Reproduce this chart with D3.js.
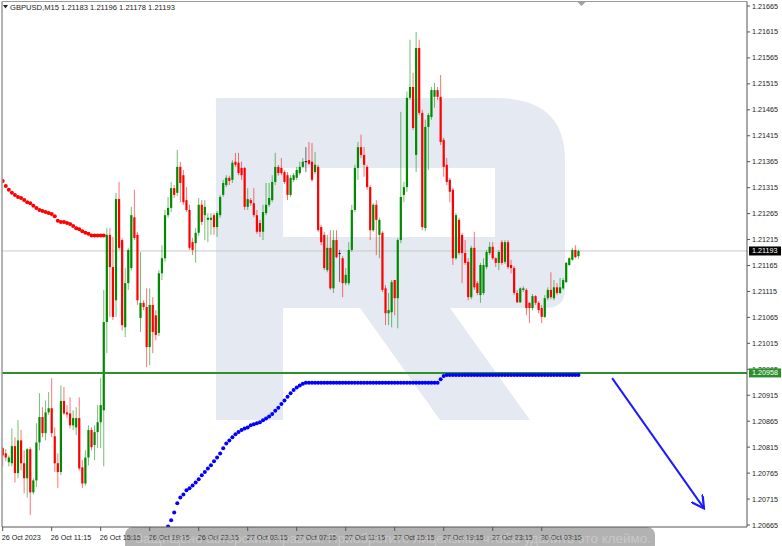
<!DOCTYPE html>
<html><head><meta charset="utf-8">
<script src="https://cdn.jsdelivr.net/npm/d3@7"></script>
<style>html,body{margin:0;padding:0;background:#fff;} svg{display:block;}</style>
</head><body>
<svg id="c" width="782" height="546"></svg>
<script>
// ---------------- DATA ----------------
const symbolTitle = "GBPUSD,M15";
const lastOHLC = [1.21183, 1.21196, 1.21178, 1.21193];

const open = [1.20813,1.20803,1.20786,1.20784,1.20817,1.20765,1.20828,1.20784,1.20755,1.20811,
1.20728,1.20751,1.20824,1.20873,1.20842,1.20882,1.20890,1.20836,1.20784,1.20767,
1.20904,1.20882,1.20880,1.20857,1.20853,1.20871,1.20776,1.20745,1.20795,1.20848,
1.20819,1.20844,1.20863,1.20886,1.21056,1.21224,1.21162,1.21098,1.21293,1.21214,
1.21046,1.21131,1.21160,1.21258,1.21224,1.21064,1.21093,1.21085,1.21008,1.21089,
1.21069,1.21035,1.21150,1.21179,1.21262,1.21276,1.21314,1.21305,1.21355,1.21339,
1.21291,1.21272,1.21210,1.21208,1.21228,1.21282,1.21262,1.21253,1.21253,1.21262,
1.21239,1.21262,1.21301,1.21320,1.21334,1.21330,1.21365,1.21363,1.21353,1.21353,
1.21278,1.21291,1.21285,1.21262,1.21247,1.21230,1.21266,1.21282,1.21291,1.21326,
1.21355,1.21353,1.21345,1.21339,1.21301,1.21330,1.21334,1.21343,1.21355,1.21366,
1.21368,1.21365,1.21345,1.21355,1.21239,1.21224,1.21156,1.21199,1.21121,1.21214,
1.21189,1.21179,1.21131,1.21131,1.21195,1.21272,1.21353,1.21393,1.21378,1.21355,
1.21316,1.21233,1.21282,1.21224,1.21228,1.21121,1.21073,1.21075,1.21137,1.21102,
1.21214,1.21301,1.21316,1.21488,1.21509,1.21378,1.21584,1.21459,1.21237,1.21432,
1.21451,1.21490,1.21503,1.21490,1.21407,1.21359,1.21330,1.21311,1.21179,1.21253,
1.21224,1.21189,1.21172,1.21104,1.21199,1.21131,1.21108,1.21112,1.21162,1.21189,
1.21201,1.21179,1.21170,1.21210,1.21172,1.21210,1.21166,1.21160,1.21112,1.21094,
1.21118,1.21118,1.21093,1.21083,1.21106,1.21093,1.21083,1.21066,1.21102,1.21118,
1.21102,1.21123,1.21112,1.21121,1.21133,1.21166,1.21176,1.21195,1.21183];

const high = [1.20815,1.20811,1.20799,1.20851,1.20834,1.20867,1.20848,1.20809,1.20813,1.20815,
1.20755,1.20861,1.20919,1.20892,1.20905,1.20921,1.20948,1.20853,1.20803,1.20934,
1.20931,1.20896,1.20911,1.20886,1.20892,1.20911,1.20790,1.20809,1.20857,1.20853,
1.20857,1.20896,1.20948,1.21118,1.21237,1.21237,1.21220,1.21305,1.21326,1.21218,
1.21160,1.21199,1.21278,1.21311,1.21230,1.21191,1.21098,1.21121,1.21121,1.21104,
1.21079,1.21156,1.21204,1.21272,1.21297,1.21326,1.21320,1.21388,1.21365,1.21349,
1.21316,1.21282,1.21218,1.21237,1.21295,1.21291,1.21291,1.21266,1.21266,1.21266,
1.21270,1.21301,1.21330,1.21339,1.21338,1.21368,1.21382,1.21382,1.21365,1.21355,
1.21314,1.21295,1.21314,1.21272,1.21253,1.21282,1.21324,1.21324,1.21339,1.21382,
1.21359,1.21372,1.21349,1.21345,1.21339,1.21343,1.21355,1.21365,1.21372,1.21393,
1.21403,1.21401,1.21384,1.21359,1.21243,1.21230,1.21224,1.21233,1.21233,1.21233,
1.21195,1.21183,1.21160,1.21210,1.21282,1.21359,1.21403,1.21417,1.21393,1.21359,
1.21320,1.21285,1.21291,1.21257,1.21231,1.21127,1.21112,1.21137,1.21137,1.21218,
1.21461,1.21326,1.21500,1.21600,1.21536,1.21615,1.21600,1.21465,1.21446,1.21459,
1.21509,1.21517,1.21509,1.21532,1.21411,1.21372,1.21334,1.21314,1.21266,1.21257,
1.21228,1.21214,1.21179,1.21203,1.21230,1.21135,1.21170,1.21179,1.21195,1.21210,
1.21210,1.21181,1.21195,1.21214,1.21214,1.21214,1.21176,1.21164,1.21118,1.21123,
1.21125,1.21121,1.21094,1.21110,1.21108,1.21096,1.21089,1.21108,1.21123,1.21152,
1.21137,1.21131,1.21141,1.21141,1.21172,1.21181,1.21199,1.21204,1.21196];

const low = [1.20778,1.20788,1.20778,1.20778,1.20747,1.20755,1.20770,1.20726,1.20718,1.20684,
1.20724,1.20738,1.20809,1.20834,1.20828,1.20877,1.20834,1.20767,1.20736,1.20761,
1.20877,1.20871,1.20851,1.20848,1.20838,1.20770,1.20736,1.20741,1.20780,1.20809,
1.20790,1.20813,1.20813,1.20778,1.20996,1.21066,1.21060,1.21066,1.21195,1.21040,
1.21027,1.21118,1.21156,1.21214,1.21089,1.21037,1.21079,1.20969,1.20973,1.20996,
1.21021,1.21029,1.21137,1.21172,1.21257,1.21268,1.21295,1.21299,1.21287,1.21282,
1.21268,1.21195,1.21185,1.21170,1.21222,1.21243,1.21214,1.21210,1.21224,1.21224,
1.21220,1.21257,1.21297,1.21316,1.21320,1.21324,1.21355,1.21339,1.21330,1.21272,
1.21272,1.21280,1.21258,1.21226,1.21220,1.21214,1.21262,1.21278,1.21287,1.21320,
1.21338,1.21339,1.21322,1.21291,1.21297,1.21326,1.21330,1.21339,1.21353,1.21345,
1.21359,1.21326,1.21341,1.21230,1.21204,1.21156,1.21152,1.21118,1.21112,1.21179,
1.21133,1.21104,1.21127,1.21127,1.21191,1.21268,1.21330,1.21372,1.21336,1.21311,
1.21214,1.21230,1.21185,1.21179,1.21114,1.21050,1.21050,1.21046,1.21069,1.21044,
1.21208,1.21287,1.21307,1.21484,1.21426,1.21345,1.21455,1.21233,1.21231,1.21349,
1.21446,1.21469,1.21484,1.21397,1.21336,1.21320,1.21287,1.21166,1.21176,1.21185,
1.21131,1.21166,1.21098,1.21100,1.21118,1.21108,1.21093,1.21108,1.21158,1.21185,
1.21176,1.21162,1.21156,1.21166,1.21168,1.21158,1.21150,1.21108,1.21093,1.21093,
1.21114,1.21069,1.21054,1.21079,1.21089,1.21073,1.21054,1.21064,1.21098,1.21100,
1.21098,1.21108,1.21110,1.21118,1.21131,1.21164,1.21174,1.21179,1.21178];

const close = [1.20799,1.20795,1.20795,1.20817,1.20765,1.20828,1.20784,1.20755,1.20811,1.20728,
1.20751,1.20824,1.20873,1.20842,1.20882,1.20890,1.20842,1.20784,1.20767,1.20904,
1.20880,1.20878,1.20857,1.20871,1.20871,1.20774,1.20745,1.20795,1.20848,1.20815,
1.20844,1.20863,1.20896,1.21056,1.21224,1.21162,1.21066,1.21293,1.21199,1.21050,
1.21131,1.21195,1.21262,1.21218,1.21098,1.21093,1.21085,1.21008,1.21089,1.21037,
1.21031,1.21150,1.21179,1.21262,1.21276,1.21314,1.21301,1.21355,1.21324,1.21287,
1.21272,1.21199,1.21195,1.21228,1.21282,1.21249,1.21278,1.21257,1.21257,1.21239,
1.21266,1.21297,1.21324,1.21334,1.21328,1.21363,1.21359,1.21343,1.21339,1.21278,
1.21293,1.21285,1.21262,1.21230,1.21230,1.21268,1.21282,1.21295,1.21326,1.21355,
1.21343,1.21343,1.21326,1.21301,1.21334,1.21339,1.21349,1.21355,1.21365,1.21366,
1.21361,1.21330,1.21359,1.21233,1.21210,1.21160,1.21199,1.21121,1.21214,1.21181,
1.21189,1.21131,1.21147,1.21195,1.21272,1.21353,1.21393,1.21378,1.21359,1.21316,
1.21233,1.21282,1.21253,1.21253,1.21118,1.21073,1.21079,1.21133,1.21102,1.21214,
1.21297,1.21316,1.21488,1.21509,1.21430,1.21584,1.21459,1.21239,1.21432,1.21455,
1.21503,1.21503,1.21490,1.21403,1.21355,1.21326,1.21307,1.21179,1.21262,1.21189,
1.21189,1.21170,1.21104,1.21199,1.21123,1.21112,1.21166,1.21166,1.21191,1.21201,
1.21179,1.21170,1.21191,1.21170,1.21210,1.21162,1.21160,1.21112,1.21094,1.21121,
1.21121,1.21083,1.21083,1.21106,1.21093,1.21079,1.21066,1.21102,1.21118,1.21104,
1.21123,1.21112,1.21123,1.21137,1.21170,1.21179,1.21195,1.21181,1.21193];

// trailing indicator (dots): red while above price, blue while below
const dotsRedStart = 0;
const dotsRed = [1.21328,1.21318,1.21311,1.21305,1.21301,1.21297,1.21295,1.21291,1.21287,1.21285,
1.21280,1.21276,1.21272,1.21270,1.21268,1.21266,1.21264,1.21260,1.21251,1.21249,
1.21249,1.21247,1.21245,1.21241,1.21237,1.21235,1.21231,1.21228,1.21226,1.21223,
1.21223,1.21223,1.21223,1.21223];
const dotsBlueStart = 54;
const dotsBlue = [1.20662,1.20674,1.20689,1.20707,1.20718,1.20724,1.20732,1.20736,1.20741,1.20747,
1.20753,1.20761,1.20767,1.20774,1.20780,1.20788,1.20795,1.20803,1.20813,1.20822,
1.20828,1.20834,1.20840,1.20844,1.20848,1.20851,1.20853,1.20857,1.20859,1.20861,
1.20863,1.20867,1.20870,1.20874,1.20879,1.20885,1.20891,1.20898,1.20905,1.20912,
1.20919,1.20925,1.20930,1.20934,1.20937,
1.20939,1.20939,1.20939,1.20939,1.20939,1.20939,1.20939,1.20939,1.20939,1.20939,
1.20939,1.20939,1.20939,1.20939,1.20939,1.20939,1.20939,1.20939,1.20939,1.20939,
1.20939,1.20939,1.20939,1.20939,1.20939,1.20939,1.20939,1.20939,1.20939,1.20939,
1.20939,1.20939,1.20939,1.20939,1.20939,1.20939,1.20939,1.20939,1.20939,1.20939,
1.20939,1.20939,1.20939,1.20939,
1.20946,1.20952,
1.20954,1.20954,1.20954,1.20954,1.20954,1.20954,1.20954,1.20954,1.20954,1.20954,
1.20954,1.20954,1.20954,1.20954,1.20954,1.20954,1.20954,1.20954,1.20954,1.20954,
1.20954,1.20954,1.20954,1.20954,1.20954,1.20954,1.20954,1.20954,1.20954,1.20954,
1.20954,1.20954,1.20954,1.20954,1.20954,1.20954,1.20954,1.20954,1.20954,1.20954,
1.20954,1.20954,1.20954,1.20954];

const supportLevel = 1.20958;
const bidPrice = 1.21193;
const priceTicks = [1.21665,1.21615,1.21565,1.21515,1.21465,1.21415,1.21365,1.21315,1.21265,1.21215,
1.21165,1.21115,1.21065,1.21015,1.20965,1.20915,1.20865,1.20815,1.20765,1.20715,1.20665];
const timeTickBars = [0,16,32,48,64,80,96,112,128,144,160,176];
const timeTickLabels = ["26 Oct 2023","26 Oct 11:15","26 Oct 15:15","26 Oct 19:15","26 Oct 23:15",
"27 Oct 03:15","27 Oct 07:15","27 Oct 11:15","27 Oct 15:15","27 Oct 19:15","27 Oct 23:15","30 Oct 03:15"];
// forecast arrow: [bar index, price]
const arrowFrom = [199, 1.20948];
const arrowTo = [229, 1.20697];
const overlayText = "Защищено авторским правом. Приобретите лицензию, чтобы удалить это клеймо.";

// ---------------- DRAW ----------------
const svg = d3.select('#c');
const FONT = '"Liberation Sans", Arial, sans-serif';
const L = 2, R = 747, T = 1.5, B = 527;
const x = d3.scaleLinear().domain([0, 16]).range([2.7, 51.7]);
const y = d3.scaleLinear().domain([1.20665, 1.21665]).range([525, 6]);

const defs = svg.append('defs');
defs.append('clipPath').attr('id','plot').append('rect')
  .attr('x', L).attr('y', T).attr('width', R - L).attr('height', B - T);
defs.append('marker').attr('id','ah').attr('viewBox','0 0 10 10').attr('refX',9).attr('refY',5)
  .attr('markerWidth',7).attr('markerHeight',7).attr('orient','auto')
  .append('path').attr('d','M0,0 L9,5 L0,10').attr('fill','none').attr('stroke','#1a1aff').attr('stroke-width',1.6);

svg.append('rect').attr('width',782).attr('height',546).attr('fill','#fff');

// watermark logo (decorative)
const wm = svg.append('g').attr('clip-path','url(#plot)').attr('fill','#e4e9f2');
wm.append('path').attr('d',
  'M216,98 H495 Q565,98 565,160 V290 Q565,308 545,308 H450 L530,420 H440 L360,308 H283 V420 H216 Z ' +
  'M283,168 V237 H495 V168 Z').attr('fill-rule','evenodd');

const plot = svg.append('g').attr('clip-path','url(#plot)');

// bid line
plot.append('line').attr('x1',L).attr('x2',R).attr('y1',y(bidPrice)).attr('y2',y(bidPrice))
  .attr('stroke','#c8c8c8').attr('stroke-width',1);

const bars = d3.range(close.length);
const col = i => close[i] > open[i] ? '#008a00' : (close[i] < open[i] ? '#ff0000' : '#000');

plot.append('g').selectAll('line').data(bars).join('line')
  .attr('x1', i => x(i)).attr('x2', i => x(i))
  .attr('y1', i => y(high[i])).attr('y2', i => y(low[i]))
  .attr('stroke', col).attr('stroke-opacity', 0.55).attr('stroke-width', 1);
plot.append('g').selectAll('rect').data(bars).join('rect')
  .attr('x', i => x(i) - 1.1).attr('width', 2.2)
  .attr('y', i => Math.min(y(open[i]), y(close[i])))
  .attr('height', i => Math.max(1, Math.abs(y(open[i]) - y(close[i]))))
  .attr('fill', col);

// support level
plot.append('line').attr('x1',L).attr('x2',R).attr('y1',y(supportLevel)).attr('y2',y(supportLevel))
  .attr('stroke','#2f8f2f').attr('stroke-width',2);

// dots
plot.append('g').selectAll('circle').data(dotsRed).join('circle')
  .attr('cx', (d,k) => x(dotsRedStart + k)).attr('cy', d => y(d)).attr('r', 2).attr('fill', '#ff0000');
plot.append('g').selectAll('circle').data(dotsBlue).join('circle')
  .attr('cx', (d,k) => x(dotsBlueStart + k)).attr('cy', d => y(d)).attr('r', 2).attr('fill', '#0000ff');

// arrow
svg.append('line').attr('x1', x(arrowFrom[0])).attr('y1', y(arrowFrom[1]))
  .attr('x2', x(arrowTo[0])).attr('y2', y(arrowTo[1]))
  .attr('stroke','#1a1aff').attr('stroke-width',2).attr('marker-end','url(#ah)');

// frame
svg.append('line').attr('x1',L).attr('x2',L).attr('y1',T).attr('y2',B).attr('stroke','#9a9a9a').attr('stroke-width',1.5);
svg.append('line').attr('x1',L).attr('x2',R).attr('y1',T).attr('y2',T).attr('stroke','#9a9a9a').attr('stroke-width',1);
svg.append('line').attr('x1',R).attr('x2',R).attr('y1',T).attr('y2',B).attr('stroke','#555').attr('stroke-width',1);
svg.append('line').attr('x1',L).attr('x2',R).attr('y1',B).attr('y2',B).attr('stroke','#555').attr('stroke-width',1);

// chart shift marker
svg.append('path').attr('d','M577,1.5 L586,1.5 L581.5,6 Z').attr('fill','#a0a0a0');

// price axis
const pa = svg.append('g');
priceTicks.forEach(p => {
  pa.append('line').attr('x1',R).attr('x2',R+3).attr('y1',y(p)).attr('y2',y(p)).attr('stroke','#555');
  pa.append('text').attr('x',R+5).attr('y',y(p)+2.5).text(p.toFixed(5))
    .attr('font-family',FONT).attr('font-size',7.2).attr('fill','#222');
});
function tag(p, bg){
  pa.append('rect').attr('x',R+2).attr('y',y(p)-4.5).attr('width',32).attr('height',9).attr('fill',bg);
  pa.append('text').attr('x',R+5).attr('y',y(p)+2.5).text(p.toFixed(5))
    .attr('font-family',FONT).attr('font-size',7.2).attr('fill','#fff');
}
tag(bidPrice, '#000');
tag(supportLevel, '#2a8f2a');

// time axis
const ta = svg.append('g');
timeTickBars.forEach((b,k) => {
  ta.append('line').attr('x1',x(b)).attr('x2',x(b)).attr('y1',B).attr('y2',B+4).attr('stroke','#555');
  ta.append('text').attr('x',x(b)-1).attr('y',B+13).text(timeTickLabels[k])
    .attr('font-family',FONT).attr('font-size',7.2).attr('fill','#222');
});

// title
svg.append('path').attr('d','M3,5 L8,5 L5.5,8.5 Z').attr('fill','#222');
svg.append('text').attr('x',10).attr('y',10)
  .text(symbolTitle + '  ' + lastOHLC.map(v => v.toFixed(5)).join(' '))
  .attr('font-family',FONT).attr('font-size',7.6).attr('fill','#222');

// copyright overlay (semi-transparent stamp at the bottom)
svg.append('rect').attr('x',125).attr('y',527).attr('width',530).attr('height',26).attr('rx',8)
  .attr('fill','#555').attr('fill-opacity',0.45);
svg.append('text').attr('x',135).attr('y',543).text(overlayText)
  .attr('textLength',516).attr('lengthAdjust','spacingAndGlyphs')
  .attr('font-family',FONT).attr('font-size',13).attr('fill','#fff').attr('fill-opacity',0.3);
</script>
</body></html>
